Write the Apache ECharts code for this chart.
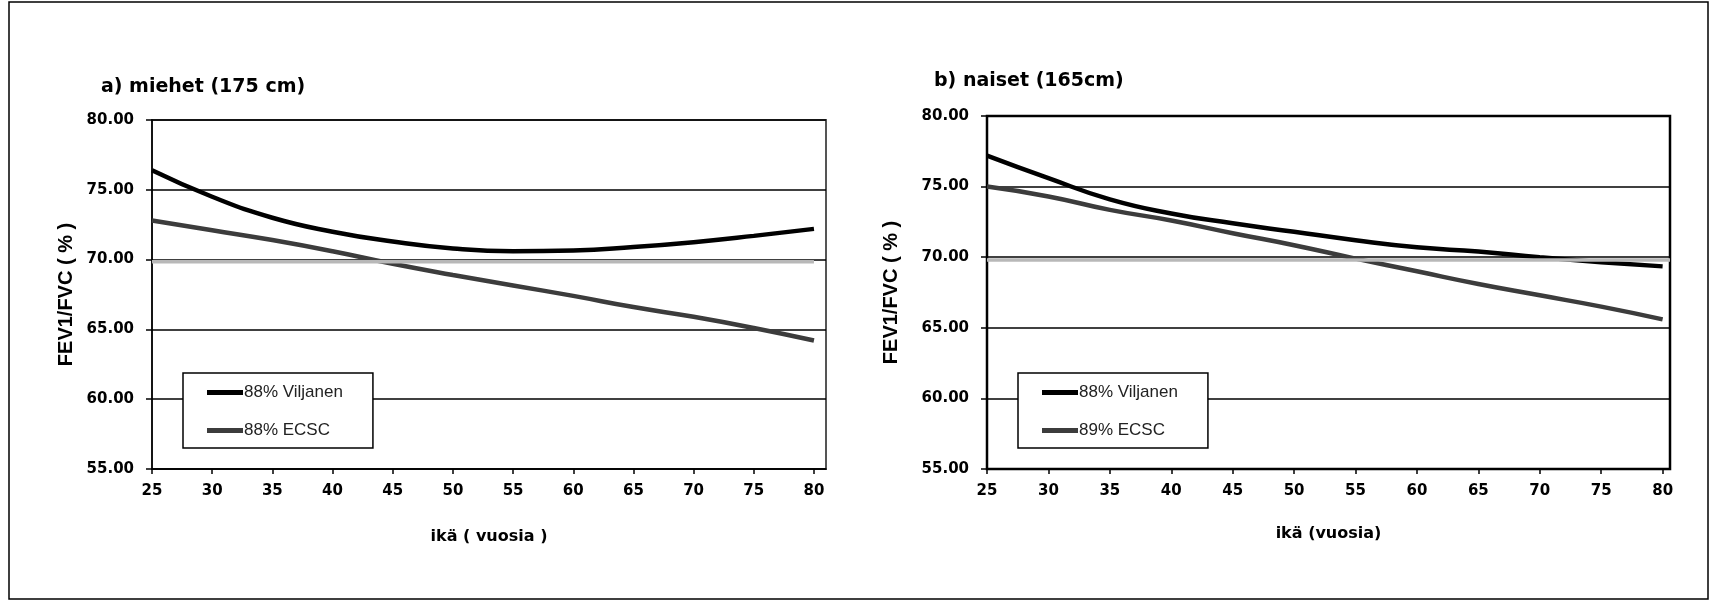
<!DOCTYPE html>
<html>
<head>
<meta charset="utf-8">
<title>FEV1/FVC</title>
<script src="https://cdn.jsdelivr.net/npm/echarts@6/dist/echarts.min.js"></script>
<style>
  html, body { margin: 0; padding: 0; background: #fff; }
  #chart { width: 1717px; height: 603px; }
</style>
</head>
<body>
<div id="chart"></div>
<script>
// ikä (vuosia)
var ages = [25, 30, 35, 40, 45, 50, 55, 60, 65, 70, 75, 80];
var xTicks = [25, 30, 35, 40, 45, 50, 55, 60, 65, 70, 75, 80];

// a) miehet (175 cm)
var viljanenMen = [76.4, 74.5, 73.0, 72.0, 71.3, 70.8, 70.6, 70.65, 70.9, 71.25, 71.7, 72.2];
var ecscMen = [72.8, 72.1, 71.4, 70.6, 69.7, 68.9, 68.15, 67.4, 66.6, 65.9, 65.1, 64.2];
var limitMen = 69.85;

// b) naiset (165cm)
var viljanenWomen = [77.2, 75.6, 74.1, 73.1, 72.4, 71.8, 71.2, 70.7, 70.4, 70.0, 69.65, 69.35];
var ecscWomen = [75.0, 74.3, 73.35, 72.6, 71.7, 70.85, 69.9, 69.0, 68.1, 67.3, 66.5, 65.6];
var limitWomen = 69.8;

var chart = echarts.init(document.getElementById('chart'));

function pairs(values) {
  return ages.map(function (a, i) { return [a, values[i]]; });
}

var wide = 'DejaVu Sans, Verdana, sans-serif';
var arial = 'Liberation Sans, Arial, sans-serif';

function xAxis(gridIndex, max, name, gap) {
  return {
    type: 'value',
    gridIndex: gridIndex,
    min: 25,
    max: max,
    interval: 5,
    name: name,
    nameLocation: 'middle',
    nameGap: gap,
    nameTextStyle: { fontFamily: wide, fontWeight: 'bold', fontSize: 16, color: '#000' },
    axisLine: { lineStyle: { color: '#000', width: 1.5 } },
    axisTick: { show: true, length: 5, lineStyle: { color: '#000', width: 1.5 }, customValues: xTicks },
    axisLabel: { fontFamily: wide, fontWeight: 'bold', fontSize: 15, color: '#000', margin: 15, customValues: xTicks },
    splitLine: { show: false }
  };
}

function yAxis(gridIndex, gap) {
  return {
    type: 'value',
    gridIndex: gridIndex,
    min: 55,
    max: 80,
    interval: 5,
    name: 'FEV1/FVC ( % )',
    nameLocation: 'middle',
    nameRotate: 90,
    nameGap: gap,
    nameTextStyle: { fontFamily: arial, fontWeight: 'bold', fontSize: 20, color: '#000' },
    axisLine: { show: true, lineStyle: { color: '#000', width: 1.5 } },
    axisTick: { show: true, inside: false, length: 6, lineStyle: { color: '#000', width: 1.5 } },
    axisLabel: {
      fontFamily: wide, fontWeight: 'bold', fontSize: 15, color: '#000', margin: 18,
      formatter: function (v) { return v.toFixed(2); }
    },
    splitLine: { show: true, lineStyle: { color: '#000', width: 1.5 } }
  };
}

function curve(name, idx, values, color) {
  return {
    name: name,
    type: 'line',
    xAxisIndex: idx,
    yAxisIndex: idx,
    smooth: true,
    showSymbol: false,
    symbol: 'none',
    data: pairs(values),
    lineStyle: { color: color, width: 4.5 },
    itemStyle: { color: color },
    z: 3
  };
}

function limitLine(idx, value, xEnd) {
  return {
    name: 'raja',
    type: 'line',
    xAxisIndex: idx,
    yAxisIndex: idx,
    showSymbol: false,
    symbol: 'none',
    data: [[25, value], [xEnd, value]],
    lineStyle: { color: '#b8b8b8', width: 3.5 },
    z: 4
  };
}

function legend(left, names) {
  return {
    orient: 'vertical',
    left: left,
    top: 373,
    data: names,
    icon: 'rect',
    itemWidth: 36,
    itemHeight: 5,
    itemGap: 21,
    padding: [11, 30, 9, 24],
    backgroundColor: '#fff',
    borderColor: '#000',
    borderWidth: 1.5,
    borderRadius: 0,
    textStyle: { fontFamily: arial, fontSize: 17, color: '#222', padding: [0, 0, 0, -4] }
  };
}

var option = {
  backgroundColor: '#fff',
  animation: false,
  title: [
    { text: 'a) miehet (175 cm)', left: 96, top: 73, textStyle: { fontFamily: wide, fontWeight: 'bold', fontSize: 19, color: '#000' } },
    { text: 'b) naiset (165cm)', left: 929, top: 67, textStyle: { fontFamily: wide, fontWeight: 'bold', fontSize: 19, color: '#000' } }
  ],
  legend: [
    legend(183, ['88% Viljanen', '88% ECSC']),
    legend(1018, ['88% Viljanen', '89% ECSC'])
  ],
  grid: [
    { left: 152, top: 120, width: 674, height: 349, show: true, borderColor: '#555', borderWidth: 2, backgroundColor: 'transparent' },
    { left: 987, top: 116, width: 683, height: 353, show: true, borderColor: '#000', borderWidth: 2.5, backgroundColor: 'transparent' }
  ],
  xAxis: [xAxis(0, 81, 'ikä ( vuosia )', 60), xAxis(1, 80.6, 'ikä (vuosia)', 57)],
  yAxis: [yAxis(0, 76), yAxis(1, 86)],
  series: [
    curve('88% Viljanen', 0, viljanenMen, '#000'),
    curve('88% ECSC', 0, ecscMen, '#3c3c3c'),
    limitLine(0, limitMen, 80),
    curve('88% Viljanen', 1, viljanenWomen, '#000'),
    curve('89% ECSC', 1, ecscWomen, '#3c3c3c'),
    limitLine(1, limitWomen, 80.6)
  ],
  graphic: [
    { type: 'rect', shape: { x: 9, y: 2, width: 1699, height: 597 }, style: { fill: 'none', stroke: '#000', lineWidth: 1.5 }, silent: true }
  ]
};

chart.setOption(option);
</script>
</body>
</html>
